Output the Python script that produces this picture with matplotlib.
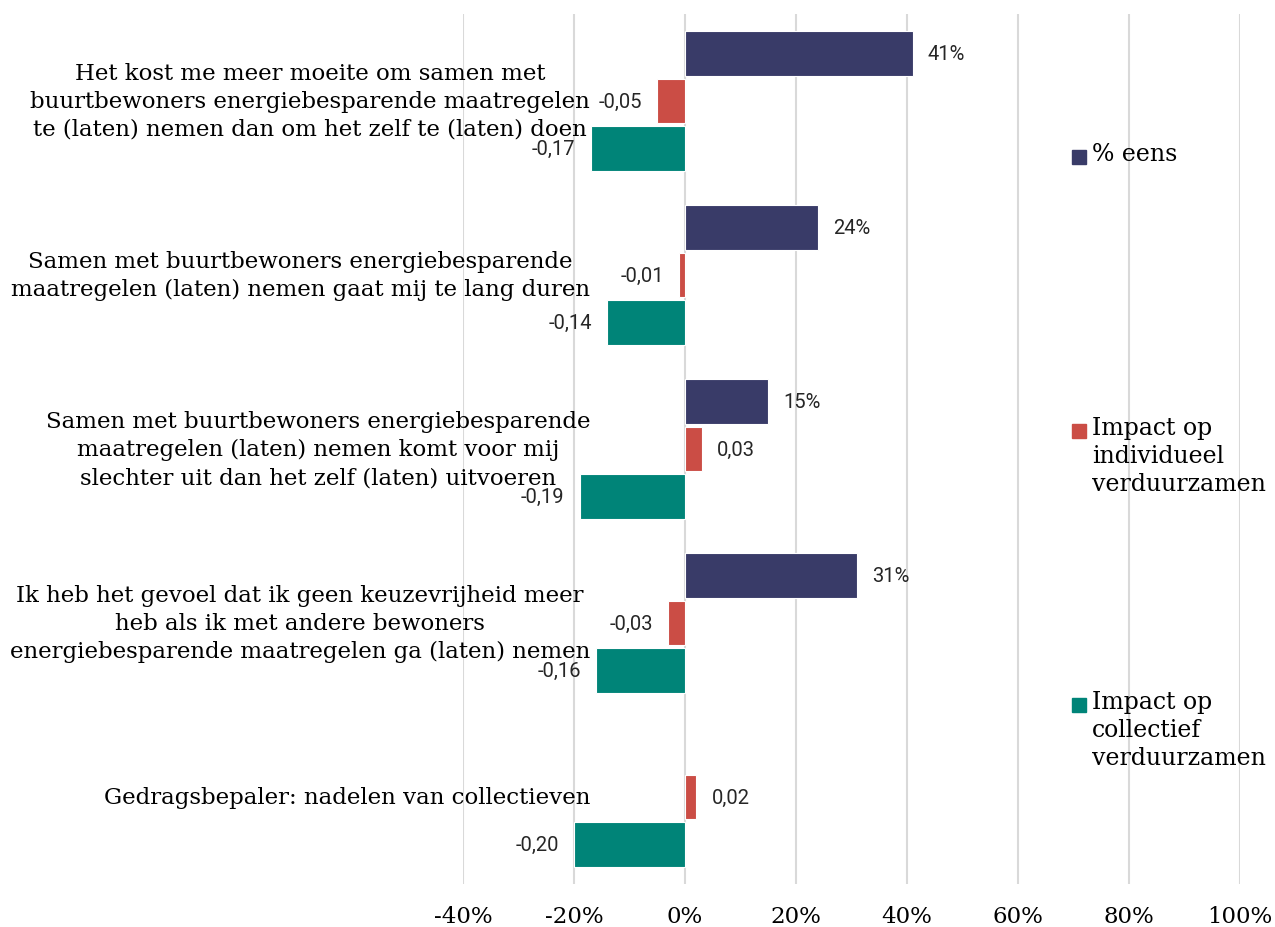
import numpy as np
import matplotlib.pyplot as plt
from matplotlib.patches import Rectangle
from matplotlib.ticker import PercentFormatter

plt.rcParams["axes.unicode_minus"] = False

categories = [
    "Het kost me meer moeite om samen met\nbuurtbewoners energiebesparende maatregelen\nte (laten) nemen dan om het zelf te (laten) doen",
    "Samen met buurtbewoners energiebesparende\nmaatregelen (laten) nemen gaat mij te lang duren",
    "Samen met buurtbewoners energiebesparende\nmaatregelen (laten) nemen komt voor mij\nslechter uit dan het zelf (laten) uitvoeren",
    "Ik heb het gevoel dat ik geen keuzevrijheid meer\nheb als ik met andere bewoners\nenergiebesparende maatregelen ga (laten) nemen",
    "Gedragsbepaler: nadelen van collectieven",
]
pct_eens = [0.41, 0.24, 0.15, 0.31, np.nan]
impact_individueel = [-0.05, -0.01, 0.03, -0.03, 0.02]
impact_collectief = [-0.17, -0.14, -0.19, -0.16, -0.20]

series_names = ["% eens", "Impact op\nindividueel\nverduurzamen", "Impact op\ncollectief\nverduurzamen"]
colors = ["#393B68", "#CB4D45", "#008478"]

SERIF = "DejaVu Serif"
SANS = "Roboto"

W, H = 1275, 928
fig = plt.figure(figsize=(W / 100, H / 100), dpi=100)
ax = fig.add_axes([463 / W, 1 - 885 / H, (1240 - 463) / W, (885 - 15) / H])

y = np.arange(len(categories))
step = 0.273
height = 0.253

for i, (vals, col) in enumerate(zip([pct_eens, impact_individueel, impact_collectief], colors)):
    vals = np.array(vals, dtype=float)
    ok = ~np.isnan(vals)
    bars = ax.barh(y[ok] + (i - 1) * step, vals[ok], height=height, color=col,
                   edgecolor="white", linewidth=0.8, zorder=3)
    if i == 0:
        labels = [f"{v:.0%}" for v in vals[ok]]
    else:
        labels = [f"{v:.2f}".replace(".", ",") for v in vals[ok]]
    ax.bar_label(bars, labels=labels, padding=11, fontsize=14.5, family=SANS, color="#262626")

ax.set_xlim(-0.4, 1.0)
ax.set_ylim(len(categories) - 0.5, -0.5)
ax.set_xticks(np.arange(-0.4, 1.01, 0.2))
ax.xaxis.set_major_formatter(PercentFormatter(1.0, decimals=0))
ax.set_yticks([])
ax.tick_params(axis="x", length=0, pad=15)
for lab in ax.get_xticklabels():
    lab.set_family(SERIF)
    lab.set_fontsize(16.5)
ax.grid(axis="x", color="#D9D9D9", linewidth=1.5, zorder=0)
ax.set_axisbelow(True)
for s in ax.spines.values():
    s.set_visible(False)

# category labels: block right-aligned next to the bars, lines centred
for yi, cat in zip(y, categories):
    ax.text((590 - 463) / (1240 - 463), yi, cat, transform=ax.get_yaxis_transform(),
            ha="right", va="center", multialignment="center", family=SERIF,
            fontsize=16.5, linespacing=1.35, clip_on=False)

# legend on the right
leg_y = [158, 432, 706]
for name, col, yy in zip(series_names, colors, leg_y):
    fig.patches.append(Rectangle((1072 / W, 1 - (yy + 7) / H), 14 / W, 14 / H,
                                 transform=fig.transFigure, color=col))
    fig.text(1092 / W, 1 - (yy - 15) / H, name, ha="left", va="top", family=SERIF,
             fontsize=17, linespacing=1.27)

fig.savefig("out.png", dpi=100)
